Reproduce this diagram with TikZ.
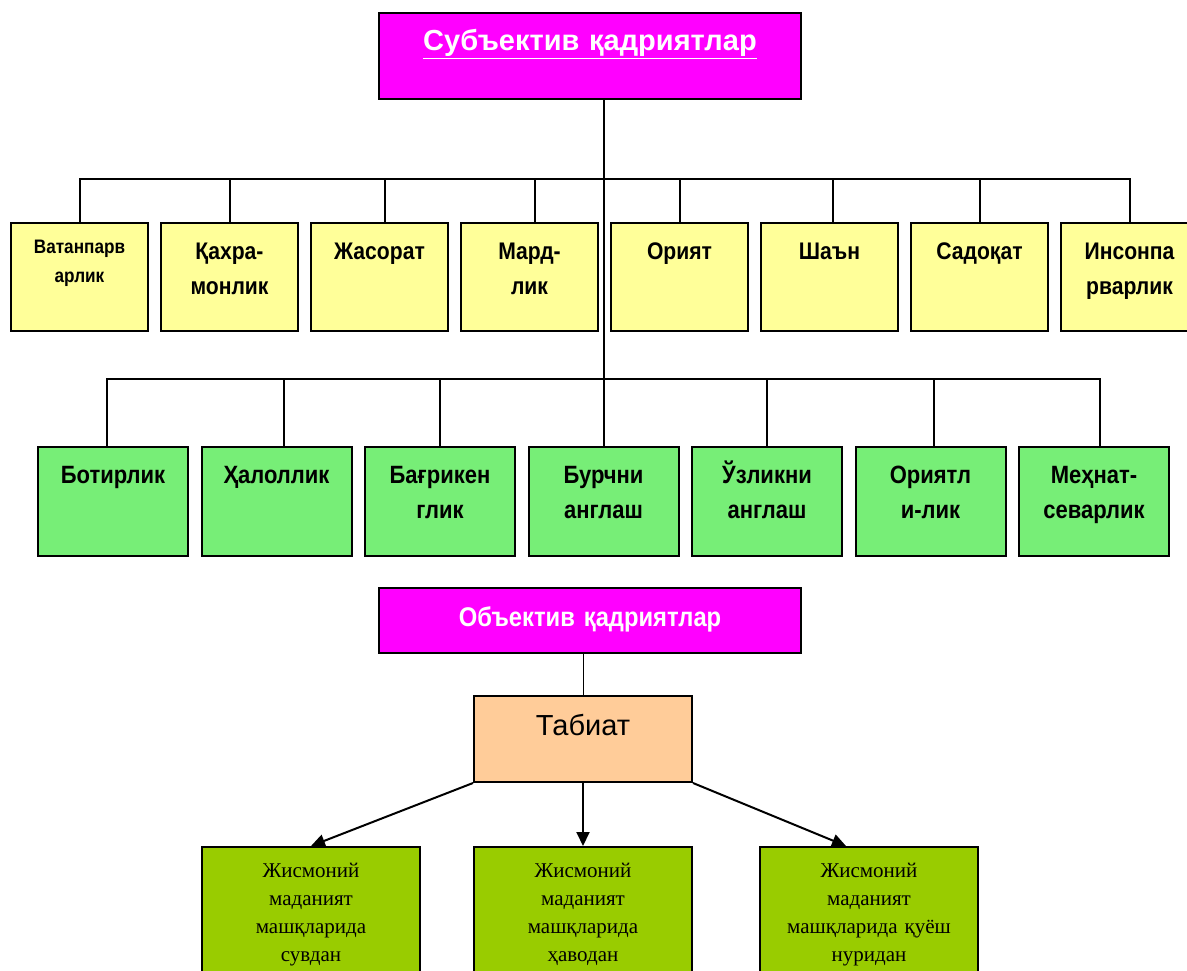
\documentclass[tikz,border=0pt]{standalone}
\usepackage{fontspec}
\setmainfont{Liberation Sans}
\newfontfamily\narrowsans[FakeStretch=0.88]{Liberation Sans}
\newfontfamily\bookserif{Liberation Serif}
\usetikzlibrary{arrows.meta}

\definecolor{subjmag}{RGB}{255,0,255}
\definecolor{valyellow}{RGB}{255,255,153}
\definecolor{valgreen}{RGB}{119,238,119}
\definecolor{natpeach}{RGB}{255,204,153}
\definecolor{exolive}{RGB}{153,204,0}

\tikzset{
  headbox/.style={draw=black, line width=2pt, fill=subjmag, text=white, inner sep=0pt,
    text width=422pt, align=center, anchor=north west},
  yelbox/.style={draw=black, line width=2pt, fill=valyellow, inner sep=0pt,
    text width=137pt, align=center, anchor=north west, text height=36pt, text depth=72pt,
    font=\narrowsans\bfseries\fontsize{24}{35}\selectfont},
  grnbox/.style={draw=black, line width=2pt, fill=valgreen, inner sep=0pt,
    text width=150pt, align=center, anchor=north west, text height=36pt, text depth=73pt,
    font=\narrowsans\bfseries\fontsize{25}{35}\selectfont},
  olvbox/.style={draw=black, line width=2pt, fill=exolive, inner sep=0pt,
    text width=218pt, align=center, anchor=north west, text height=30pt, text depth=140pt,
    font=\bookserif\fontsize{21}{28}\selectfont},
  link/.style={line width=2pt},
  arr/.style={line width=2pt, -{Triangle[length=14pt,width=13pt]}},
}

\begin{document}
\begin{tikzpicture}[x=1pt,y=1pt,yscale=-1,xscale=1]
\useasboundingbox (0,0) rectangle (1187,971);

%Shape: Rectangle [subjective]
\node [headbox, text height=38pt, text depth=48pt, font=\bfseries\fontsize{29}{34}\selectfont] (subj) at (378,12) {\underline{Субъектив қадриятлар}};

% first row
\node [yelbox, text height=30pt, text depth=78pt, font=\narrowsans\bfseries\fontsize{19.5}{29}\selectfont] (vatan) at (10,222) {Ватанпарв\\арлик};
\node [yelbox] (qahr) at (160,222) {Қахра-\\монлик};
\node [yelbox] (jas) at (310,222) {Жасорат};
\node [yelbox] (mard) at (460,222) {Мард-\\лик};
\node [yelbox] (oriy) at (610,222) {Орият};
\node [yelbox] (shan) at (760,222) {Шаън};
\node [yelbox] (sadoq) at (910,222) {Садоқат};
\node [yelbox] (inson) at (1060,222) {Инсонпа\\рварлик};

% second row
\node [grnbox] (botir) at (37,446) {Ботирлик};
\node [grnbox] (halol) at (200.5,446) {Ҳалоллик};
\node [grnbox] (bagri) at (364,446) {Бағрикен\\глик};
\node [grnbox] (burch) at (527.5,446) {Бурчни\\англаш};
\node [grnbox] (uzlik) at (691,446) {Ўзликни\\англаш};
\node [grnbox] (oriyl) at (854.5,446) {Ориятл\\и-лик};
\node [grnbox] (mehn) at (1018,446) {Меҳнат-\\севарлик};

%Straight Lines
\coordinate (bus1) at (0,179);
\coordinate (bus2) at (0,379);
\draw [link] (burch.north |- subj.south) -- (burch.north);
\draw [link] (vatan.north) -- (vatan.north |- bus1) -- (inson.north |- bus1) -- (inson.north);
\draw [link] (qahr.north) -- (qahr.north |- bus1);
\draw [link] ([xshift=5pt]jas.north) -- ([xshift=5pt]jas.north |- bus1);
\draw [link] ([xshift=5pt]mard.north) -- ([xshift=5pt]mard.north |- bus1);
\draw [link] (oriy.north) -- (oriy.north |- bus1);
\draw [link] ([xshift=3pt]shan.north) -- ([xshift=3pt]shan.north |- bus1);
\draw [link] (sadoq.north) -- (sadoq.north |- bus1);
\draw [link] ([xshift=-6pt]botir.north) -- ([xshift=-6pt]botir.north |- bus2) -- ([xshift=6pt]mehn.north |- bus2) -- ([xshift=6pt]mehn.north);
\draw [link] ([xshift=7pt]halol.north) -- ([xshift=7pt]halol.north |- bus2);
\draw [link] (bagri.north) -- (bagri.north |- bus2);
\draw [link] (uzlik.north) -- (uzlik.north |- bus2);
\draw [link] ([xshift=3pt]oriyl.north) -- ([xshift=3pt]oriyl.north |- bus2);

%Shape: Rectangle [objective]
\node [headbox, text height=38pt, text depth=27pt, font=\narrowsans\bfseries\fontsize{27}{30}\selectfont] (obj) at (378,587) {Объектив қадриятлар};

% Text Node
\node [draw=black, line width=2pt, fill=natpeach, inner sep=0pt, text width=218pt, align=center,
  anchor=north west, text height=39pt, text depth=47pt, font=\fontsize{29}{32}\selectfont] (tabi) at (473,695) {Табиат};

\draw [line width=1pt] (tabi.north |- obj.south) -- (tabi.north);

% third row
\node [olvbox] (suv) at (201,846) {Жисмоний\\маданият\\машқларида\\сувдан};
\node [olvbox] (havo) at (473,846) {Жисмоний\\маданият\\машқларида\\ҳаводан};
\node [olvbox] (quyosh) at (759,846) {Жисмоний\\маданият\\машқларида қуёш\\нуридан};

%Curve Lines
\draw [arr] (tabi.south west) -- (suv.north);
\draw [arr] (tabi.south) -- (havo.north);
\draw [arr] (tabi.south east) -- ([xshift=-23pt]quyosh.north);

\end{tikzpicture}
\end{document}
